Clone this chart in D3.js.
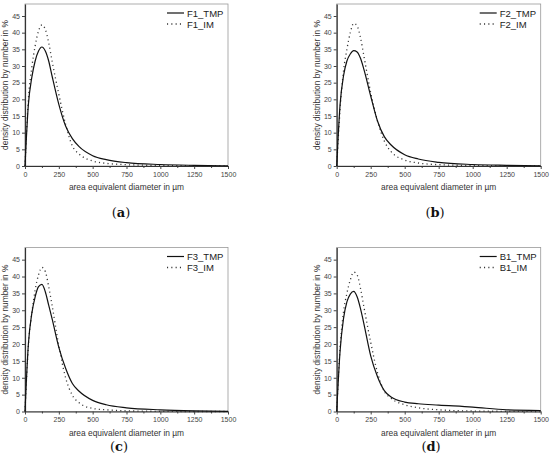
<!DOCTYPE html>
<html lang="en">
<head>
<meta charset="UTF-8">
<title>Density distribution</title>
<style>
    body { margin: 0; background: #fff; }
    svg { font-family: "Liberation Sans", Arial, sans-serif; }
    .tick text { fill: #444; font-size: 7px; }
    .tick line { stroke: #444; }
    .domain { stroke: #333; }
    .frame { fill: none; stroke: #999; stroke-width: 0.8; }
    .axis-title { fill: #333; font-size: 8.4px; }
    .legend text { fill: #222; font-size: 9.5px; }
    .panel-label { font-family: "DejaVu Serif", "Liberation Serif", serif; font-size: 13px; fill: #111; }
</style>
</head>
<body>
<div id="chart"></div>
<script src="https://d3js.org/d3.v7.min.js"></script>
<script>
// shared diameter grid (µm)
const diameters = [0, 25, 50, 75, 100, 125, 150, 175, 200, 250, 300, 350, 400, 500, 600, 750, 1000, 1250, 1500];

// density distribution by number in %
const f1Tmp = [0, 18.5, 26.5, 31.5, 34.5, 35.7, 34.5, 31.5, 27, 18.5, 12, 8.2, 5.8, 3.1, 1.9, 1.0, 0.45, 0.2, 0.05];
const f1Im  = [0, 20, 29.5, 36, 40.5, 42.3, 41, 37, 31.5, 21.5, 12.5, 6.0, 3.6, 1.5, 0.8, 0.4, 0.15, 0.05, 0];
const f2Tmp = [0, 18.5, 27, 31.5, 33.6, 34.6, 34.2, 32.3, 29, 21, 13.5, 8.8, 6.3, 3.4, 2.1, 1.1, 0.45, 0.2, 0.05];
const f2Im  = [0, 17, 28.5, 35, 40, 42.8, 42, 38.5, 33, 22, 13.5, 7.5, 4.3, 1.8, 0.9, 0.4, 0.15, 0.05, 0];
const f3Tmp = [0, 20, 29, 34, 37, 37.7, 35.5, 31.5, 27.5, 19, 12.8, 8.3, 6, 3.3, 2.0, 1.1, 0.5, 0.2, 0.05];
const f3Im  = [0, 19.5, 29, 36, 40.5, 42.7, 41.5, 37, 31.5, 19.5, 10, 4.8, 2.6, 0.9, 0.5, 0.2, 0.05, 0, 0];
const b1Tmp = [0, 18, 27.5, 32.5, 34.8, 35.6, 34, 30.5, 26, 16.5, 10.3, 6.2, 4.3, 2.8, 2.3, 1.9, 1.3, 0.5, 0.3];
const b1Im  = [0, 19, 29.5, 35, 39, 41.3, 40.5, 36.5, 31, 20.5, 11.5, 6.0, 3.9, 2.0, 1.1, 0.5, 0.15, 0.05, 0];

const xTicks = [0, 250, 500, 750, 1000, 1250, 1500];
const yTicks = [0, 5, 10, 15, 20, 25, 30, 35, 40, 45];
const panelLetters = ["a", "b", "c", "d"];
const legendNames = [["F1_TMP", "F1_IM"], ["F2_TMP", "F2_IM"], ["F3_TMP", "F3_IM"], ["B1_TMP", "B1_IM"]];
const seriesSets = [[f1Tmp, f1Im], [f2Tmp, f2Im], [f3Tmp, f3Im], [b1Tmp, b1Im]];

const W = 550, H = 468;
const dots = "1.1,3.2";
const svg = d3.select("#chart").append("svg")
    .attr("width", W)
    .attr("height", H);

// plot boxes: left, top, width, height; label position
const boxes = [
    {x: 25, y: 4, w: 203, h: 162, lx: 121, ly: 217},
    {x: 336.7, y: 4, w: 204, h: 162, lx: 435, ly: 217},
    {x: 25, y: 247.5, w: 203, h: 164, lx: 119, ly: 451},
    {x: 336.7, y: 247.5, w: 204, h: 164, lx: 431, ly: 451}
];

boxes.forEach((b, i) => {
    const g = svg.append("g").attr("transform", `translate(${b.x},${b.y})`);

    const x = d3.scaleLinear().domain([0, 1500]).range([0, b.w]);
    const y = d3.scaleLinear().domain([0, 48.6]).range([b.h, 0]);

    g.append("rect").attr("class", "frame")
        .attr("width", b.w).attr("height", b.h);

    // minor x ticks
    g.append("g")
        .attr("transform", `translate(0,${b.h})`)
        .call(d3.axisBottom(x).tickValues(d3.range(125, 1500, 250)).tickSize(2).tickFormat(""))
        .call(s => s.select(".domain").remove());

    g.append("g")
        .attr("transform", `translate(0,${b.h})`)
        .call(d3.axisBottom(x).tickValues(xTicks).tickFormat(d3.format("d"))
            .tickSize(3).tickSizeOuter(0).tickPadding(3))
        .call(s => s.select(".domain").attr("stroke-width", 1.2));

    g.append("g")
        .call(d3.axisLeft(y).tickValues(yTicks).tickSize(3).tickSizeOuter(0).tickPadding(2))
        .call(s => s.select(".domain").attr("stroke-width", 1.2));

    g.append("text").attr("class", "axis-title")
        .attr("x", b.w / 2).attr("y", b.h + 24)
        .attr("text-anchor", "middle")
        .text("area equivalent diameter in µm");

    g.append("text").attr("class", "axis-title")
        .attr("transform", `translate(-17,${b.h / 2}) rotate(-90)`)
        .attr("text-anchor", "middle")
        .text("density distribution by number in %");

    const line = d3.line()
        .x((d, k) => x(diameters[k]))
        .y(d => y(d))
        .curve(d3.curveMonotoneX);

    const [tmp, im] = seriesSets[i];
    g.append("path").datum(im)
        .attr("fill", "none").attr("stroke", "#333")
        .attr("stroke-width", 1.3)
        .attr("stroke-dasharray", dots)
        .attr("d", line);
    g.append("path").datum(tmp)
        .attr("fill", "none").attr("stroke", "#111")
        .attr("stroke-width", 1.2)
        .attr("d", line);

    // legend
    const lg = g.append("g").attr("class", "legend")
        .attr("transform", `translate(${b.w - 61},9)`);
    lg.append("line").attr("x1", 0).attr("x2", 17)
        .attr("stroke", "#111").attr("stroke-width", 1.2);
    lg.append("line").attr("x1", 0).attr("x2", 17).attr("y1", 11).attr("y2", 11)
        .attr("stroke", "#333").attr("stroke-width", 1.3).attr("stroke-dasharray", dots);
    lg.append("text").attr("x", 20).attr("y", 3.5).text(legendNames[i][0]);
    lg.append("text").attr("x", 20).attr("y", 14.5).text(legendNames[i][1]);

    // panel label
    const t = svg.append("text").attr("class", "panel-label")
        .attr("x", b.lx).attr("y", b.ly)
        .attr("text-anchor", "middle");
    t.append("tspan").text("(");
    t.append("tspan").attr("font-weight", "bold").text(panelLetters[i]);
    t.append("tspan").text(")");
});
</script>
</body>
</html>
